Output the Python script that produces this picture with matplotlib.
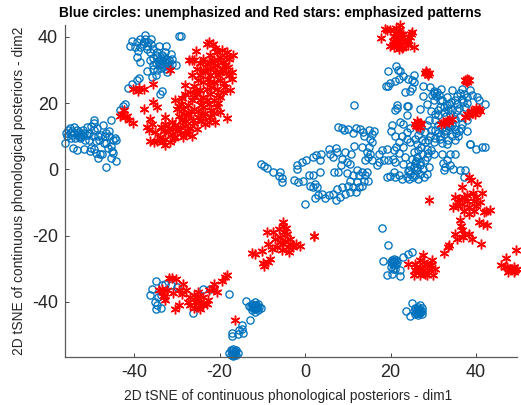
import matplotlib
matplotlib.use("Agg")
import matplotlib.pyplot as plt

plt.rcParams['font.family'] = ['Liberation Sans', 'DejaVu Sans']
plt.rcParams['axes.unicode_minus'] = False

title = "Blue circles: unemphasized and Red stars: emphasized patterns"
xlabel = "2D tSNE of continuous phonological posteriors - dim1"
ylabel = "2D tSNE of continuous phonological posteriors - dim2"
xticks = [-40, -20, 0, 20, 40]
yticks = [-40, -20, 0, 20, 40]

blue_left = [(-56.2,8),(-56,11),(-55.8,10),(-55.5,12),(-55,12.5),(-55,11),(-54.8,9.5),(-54.5,10.5),(-54.2,12.8),(-54,11),
 (-53.8,9.5),(-53.5,12),(-53,10),(-53,11.2),(-52.5,9.8),(-52.5,10.8),(-52,10.5),(-52,12),(-51.5,9),(-51,10.5),(-51,12.8),
 (-50.5,8.8),(-50.5,11),(-50,13),(-50,6.5),(-49.7,10),(-49.5,12),(-49.5,14.8),(-49.5,6),(-49.5,14),(-49,8.5),(-49,5),
 (-48.8,12.5),(-48.5,10),(-48.2,9),(-48.5,3.5),(-48,4.5),(-47.8,10.5),(-47.5,4.5),(-47.2,13.3),(-47,8),(-46.8,10),(-46.5,8),
 (-46.5,11),(-46.2,6.5),(-46,10),(-46,11.5),(-45.5,7),(-45.5,3.5),(-45.3,5.5),(-45,9),(-45,5),(-44.5,9.5),(-44.3,9),
 (-44.3,2.5),(-46.7,0.7),(-53.5,5.8),(-54.3,6.3),(-51.8,6.2),(-45.5,14.8),(-50.3,5.5),(-54.6,11.6),(-53.2,10.6),(-51.8,11),(-52.8,9.4)]
blue_upper = [(-41,37.2),(-40.6,38.7),(-39.4,38.4),(-38.6,39.4),(-37.5,40.7),(-36,39.4),(-37.8,38.4),(-36.7,38.4),(-39.8,36.9),
 (-38.6,36.9),(-37,36.4),(-36.3,35.4),(-34.3,37.4),(-32.5,37.4),(-39.2,35.7),(-34.7,35.4),(-32.8,35.4),(-31.4,34.9),(-39.4,33.9),
 (-38.6,32.4),(-36.3,32.9),(-34.7,33.9),(-33.5,34.4),(-31.2,33.4),(-35.5,31.4),(-33.9,31.9),(-32.8,32.4),(-32,32.4),(-33.2,30.9),
 (-31.2,31.9),(-30.2,31.6),(-34.7,29.9),(-37,29.7),(-32.4,29.4),(-35.9,27.9),(-34.9,28.4),(-33.5,33),(-32.5,33.4),(-32,31.2),
 (-33,31.5),(-34,33),(-35.5,33.5),(-35,32),(-35.5,36.5),(-37.5,39.5),(-38,37.8),(-29.4,40.2),(-29.1,40.2),
 (-41.4,24.6),(-40.6,25.8),(-39.4,27),(-38.8,27.6),(-34,22.8),(-33.6,23.6),(-43.3,18),(-42.7,19),(-42.1,19.6),
 (-33.4,32.2),(-32.4,31.8),(-33.8,30.6),(-34.2,31.4),(-32.6,30.4),(-31.8,33),(-34.4,32.6),(-33,33.9),(-36,38),(-37,37.4),(-35,34.4),(-35.7,30.4)]
blue_center = [(-10.4,1.5),(-9.7,0.9),(-9,0.3),(-7.6,-0.8),(-5.8,-0.8),(-6.2,-2),(-5.3,-2.7),(-5.5,-3.9),
 (-2.6,-3.2),(-1.6,-3.9),(-0.6,-3.6),(-1.9,0.2),(-1.8,1.2),(-0.8,2.2),(0.2,2.7),(1.9,3.7),(2.6,4.2),(3.7,4.7),(3.5,2.9),
 (5.7,6.2),(7.2,6.5),(5.9,4.7),(7.4,5.2),(6.6,3.7),(8.6,3.2),(8.4,1.4),(9.4,5.2),(10.8,4.7),(9.8,2.2),(10.4,1.7),(11.5,6.9),
 (0.8,-1.8),(1.8,-1.6),(3.4,-0.8),(6.8,-0.8),(7.8,-0.8),(9.8,-1.1),(11.2,-1.8),(12.1,-0.3),(13.3,-0.8),(14.6,-0.8),(12.5,-1.8),
 (14,-1.8),(13.7,-3.4),(14.8,-3.4),(12.1,-3.9),(10.5,-3.4),(10.1,-4.9),(11.3,-5.4),(12.5,-5.4),(13.3,-4.9),(8.6,-5.4),(7.4,-5.9),
 (1.2,-4.9),(2.3,-4.4),(2.7,-5.4),(1.9,-5.4),(3.1,-7.9),(2.3,-8.6),(3.9,-7.4),(5.5,-7.9),(6.6,-7.4),(8.2,-8.4),(9.4,-7.4),
 (10.5,-6.9),(11.9,-6.9),(0,-10.5),(4.6,-8.8),(7.2,-9.2),
 (7.8,12.8),(8.6,12.6),(9.1,12),(10.1,12.2),(11.3,10.9),(11.9,12.6),(12.9,12.2),(13.5,11.2),(13.7,10.2),(15,11.9),(16.2,11.7),
 (15.6,10.7),(15.2,9.2),(15.6,8.2),(15,6.7),(13.3,6.7),(14.4,5.2),(15.2,4.7),(14,2.7),(14.8,3.7),(15.6,2.7),(16.8,1.2),(17.2,2.2),
 (17.4,4.7),(18,5.7),(19.1,6.2),(20.7,5.7),(19.5,2.7),(21.1,2.2),(20.5,3.2),(21.3,6.7),(21.9,8.2),(23,6.7),(23.4,3.7),(23,1.7),
 (19.1,-2.2),(20.7,-0.8),(21.1,-2.4),(21.9,-1.8),(22.6,-2.9),(23.8,-2.4),(24.6,-1.3),(25.4,0.7),(26.1,-0.3),(26.9,-1.3),(25.8,-1.8),
 (24.4,-2.9),(26.5,-2.9),(26.9,1.2),(27.5,0),(28.5,-1.3),(28.9,0.7),(28.1,2.7),(26.1,3.7),(25.4,5.2),(26.5,5.7),(28.5,6.2),
 (26.1,7.7),(25.8,9.2),(28.1,8.2),(29.3,10.2),(30.1,8.2),(31.6,9.2),(33.2,7.7),(32.4,10.7),(34.3,10.2),(35.9,10.2),(35.1,12.2),
 (37.9,11.7),(36.7,13.8),(34,12.8),(32.8,11.7),(31.2,13.3),(30.4,14.8),(31.2,16.3),(30.4,16.8),(32.4,17.3),(28.5,13.3),(28.1,11.2),
 (23.8,11.2),(23,13.8),(23.8,16.3),(22.2,14.3),(20.3,13.3),(20.1,11.7),(22.6,10.2),(21.1,10.2),(23.8,9.2),(24.6,8.2),
 (38.5,7.7),(38.7,7.6),(40,6.2),(41.4,6.7),(42.2,6.7),(30.1,4.7),(32,4.7),(34,4.7),(35.1,4.7),(33.2,2.7),(34,1.2),(34.7,0.2),
 (32.5,-0.3),(32.8,0.7),(36.3,-0.1),(37.5,-0.1),(37.1,-2.4),(28.5,3.7),(37.9,14.8),(35.1,15.3),(36.3,15.8),(34,16.8),(35.5,17.8),
 (37.5,18.8),(32.4,18.8),(31.6,18.8),(33.6,19.8),(35.1,21),(36.7,21.3),(37.9,21.8),
 (19.5,29.8),(21.3,31.1),(21.7,29.9),(22.1,29.6),(23,28.2),(24,27.4),(25.4,28.4),(25,26.9),(25.5,26.3),(21.9,27.4),(21.1,26.6),
 (19.9,26),(18.9,25.3),(19.3,25.2),(23.4,23.3),(24.6,23.8),(25,24.6),(27.6,25.3),(29.3,24.8),(30.1,23.8),(30.9,23.3),(31.8,24.3),
 (27.7,22.3),(30.1,23),(34.3,24.1),(36.7,24.3),(38.5,24),(35.5,22.3),(37.1,22.8),(33.2,21.8),(30.1,21),(31.6,20.8),(40.2,21.8),
 (40.6,20.8),(42,19.7),(33.2,19.3),(35.5,19.8),(36.9,20.3),(34.3,17.8),(28.5,19.8),(26.9,18.3),(24.2,19.1),(23.8,19),(21.5,19.3),
 (21.1,17.8),(21.4,18.6),(11.4,19.5),(29,15),(29.5,12),(31,11),(33.5,13.2),(36,11.5),(24.5,12.5),(26.5,10.5),(27.2,6.8),(29.5,5.8),
 (27,2.2),(24.5,1),(22,4.8),(18.5,2.8),(19.8,-2),(24,-0.5),(25.8,1.8),
 (30.5,12),(32,12.5),(33,12),(34.5,13.5),(33.8,14),(31.5,10.2),(30.3,9.6),(28.8,9),(27.3,8.8),(26.8,11.9),(27.4,4.5),(26,2.6),
 (28.8,4.8),(25,3),(24.4,-0.1),(26.3,0.6),(27.8,-2.2),(25.2,-2.3),(32.2,1.8),(35.3,11.1),(36.6,12.5),(33.5,9),(35,9),(32,8),
 (33.4,18),(32,21),(30.6,22.2),(31.4,22.6),(29.8,22.6),(34.2,20.2),(36.2,23),(38,20),(39,22.5),(36,18.5),(33,16),(31,18),(29.4,17.5)]
blue_lower = [(-34.9,-33.8),(-35.9,-36),(-36.3,-37.9),(-35.2,-40),(-35,-42.1),(-33.7,-41.8),(-32.8,-34.5),(-31.4,-35),(-33.5,-35),
 (-34.5,-38.5),(-34.7,-41),(-33.8,-38),(-30,-35.5),(-26.3,-43.4),(-24,-36),(-22.2,-36),(-17.9,-37.6),(-13.8,-39.9),
 (-13,-45.6),(-14.8,-48.1),(-15.5,-48.6),(-14.6,-49.4),(-15.8,-49.8),(-14.8,-47),(-17,-49.4),(-17,-50.2)]
blue_blob_a = [(-11.7,-41.6),(-12.7,-41.6),(-10.7,-41.6),(-11.7,-40.2),(-11.7,-43),(-12.4,-40.6),(-11,-40.6),(-12.4,-42.6),(-11,-42.6),
 (-13.1,-41.2),(-10.3,-42),(-12,-41),(-11.4,-42),(-12,-42),(-11.4,-41),(-12.2,-41.6),(-11.2,-41.6),(-11.7,-41),(-11.7,-42.2)]
blue_blob_b = [(-16.8,-55.5),(-17.8,-55.5),(-15.8,-55.5),(-16.8,-54.2),(-16.8,-56.3),(-17.4,-54.6),(-16.2,-54.6),(-17.4,-56.2),(-16.2,-56.2),
 (-17,-55),(-16.4,-55.8),(-17.2,-55.6),(-16.5,-55),(-16.9,-56),(-16.3,-55.2)]
blue_blob_c = [(18,-17.8),(19.4,-22.9),(18.2,-27.6),(23,-26.5),(24.2,-25.5),(25,-25),(20.8,-28),(20,-28),(21.6,-28),(20.8,-27),(20.8,-29),
 (21,-30),(22.1,-30.3),(19.1,-31.8),(20.3,-31.5),(22.2,-32.3),(20.6,-30.2),(20.2,-29.4),(21.3,-27.3),(20.3,-27.3),(20.4,-28.4),(21.2,-28.6),(20.8,-27.6)]
blue_blob_d = [(25,-40.3),(23.6,-42.9),(24.6,-44.3),(26.9,-40.9),(26.5,-42.9),(25.6,-42.9),(27.4,-42.9),(26.5,-41.7),(26.5,-44.1),
 (25.7,-42),(27.3,-42),(25.7,-43.8),(27.3,-43.8),(26,-43),(27,-43),(26.5,-42.3),(26.5,-43.5),(26.1,-42.4),(26.9,-43.5),(26.1,-43.4),(26.9,-42.4)]

red_main = [(-22.4,38.4),(-23,37.9),(-21.6,37.9),(-25.6,35.7),(-26.5,33.1),(-27.1,33.1),(-26,32.9),(-19.5,35.9),(-20.7,35.4),(-18.3,35.4),
 (-16.8,34.4),(-22.2,34.4),(-23.8,33.4),(-19.9,33.9),(-17.9,33.4),(-21.4,32.9),(-19.1,32.4),(-23,31.9),(-20.7,31.4),(-25.4,30.4),
 (-22.2,30.4),(-19.5,30.4),(-17.2,29.4),(-17.9,28.4),(-17.2,27.4),(-26.5,28.4),(-24.6,28.4),(-22.2,28.4),(-20.3,28.4),(-23.8,26.4),
 (-21.4,26.4),(-28.1,25.6),(-26.1,25.3),(-23,24.3),(-20.7,24.3),(-17.5,24),(-19.1,23.3),(-25.4,22.8),(-22.2,22.8),(-19.9,21.8),
 (-28.9,21.6),(-30.4,20.8),(-26.5,20.8),(-24.6,20.8),(-21.4,20.8),(-30,18.3),(-28.5,18.3),(-26.1,18.3),(-23.8,18.8),(-20.7,18.8),
 (-19.9,17.3),(-18.3,15.6),(-27.3,16.3),(-25,15.8),(-22.2,15.8),(-21,14.3),(-23.4,13.8),(-28.9,14.8),(-30.4,13.3),(-32.8,15.8),
 (-36.3,15.3),(-35.9,13.8),(-37,12.8),(-32.8,13.8),(-30,11.7),(-27.3,11.7),(-25.4,12.2),(-35.1,11.2),(-32,11.2),(-36.3,8.7),
 (-34.7,8.7),(-32.8,9.2),(-32.8,7.2),(-31.6,8.2),(-30.4,9.7),(-28.5,9.7),(-26.5,10.2),(-35.7,20.3),(-34.6,18.8),(-37.7,18.2),
 (-40.3,14.1),(-42.5,17.8),(-42.1,15.8),(-43.3,16),(-41.6,16),(-35.5,25.8),(-40.2,24.3),(-39,23.8),(-37.8,24.3),(-31.6,30.1),
 (-20,29.5),(-24,30),(-24.5,24),(-27,23.5),(-24,22),(-19,26),(-29,19.8),(-27.5,19.5),(-25,17.5),(-22,18),(-24,16),(-29.5,16),
 (-28,13),(-31,12.3),(-29,11),(-26,14),(-18.8,31.5),(-21,36.6),(-18,31),(-30.8,9.5),(-33,11.5),(-36.5,12),(-21.5,31),(-22.5,26.5),
 (-20.5,33),(-18.6,34),(-22.5,32.5),(-24.5,32),(-23.4,29.6),(-21,29.5),(-18.5,29.2),(-25,27),(-22.8,27.4),(-20,27),(-25.6,24),
 (-22,25),(-18.8,24.8),(-28,22.8),(-26,22),(-23,21),(-20.5,22.6),(-29.5,19),(-26.8,17.5),(-24.4,19.5),(-22.6,19.6),(-20.4,20),
 (-21.4,17),(-23.4,17),(-28.4,16.6),(-26.2,15),(-24.3,14.6),(-22.5,14.4),(-27.8,14.6),(-31.2,14.4),(-31.8,12.6),(-33.8,12.8),
 (-29.2,12.7),(-27,12.6),(-34,9.8),(-31.2,10.6),(-27.8,10.6),(-33.2,8.2),(-35.4,8.2),(-42.8,16.8),(-41.2,15),(-38.8,24.5)]
red_top = [(17.8,39.7),(18.7,42.5),(19.9,42),(22.2,43.5),(20.7,40.4),(21.9,42),(23,41),(25,41.5),(24.6,39.9),(21.1,38.4),(22.2,38.9),
 (23.8,38.4),(21.9,36.4),(23,36.9),(25.5,37.1),(19.9,37.4),(22.3,37.8),(21.5,40),(22.5,41),(20.5,38.8),(24,37.5),(22.8,39.9),
 (19.2,42.2),(21.3,42.8),(21,41.3),(24.7,40.8),(20.8,37),(22.6,36.6),(24,39.2),(21.5,37.4)]
red_blobs = [(28.5,29.1),(28.3,29.6),(28.8,28.6),(28.1,29),(28.9,29.2),(37.9,26.9),(37.4,27),(38.4,26.9),(37.9,27.4),(37.9,26.4),(37.6,26.7),(38.2,27.1),
 (26.5,13.6),(25.8,13.8),(27.2,13.6),(26.2,14.5),(26.8,12.8),(27,14),(26,13),(26.5,14.1),(26.5,13.1),(33.2,14.6),(31.8,13.6),(34.4,15.2),(32.6,14),(33.8,15),
 (32.2,14.2),(33.6,14.3),(39.4,17.3),(37.5,15.8),(40.6,18.3),(38.4,16.5),(40,18.6),(39.8,16.6),(38.8,17.6),(41,17.5),(37.9,16.7),(39,16.9),(40.2,17.6)]
red_center = [(-5.1,-15.9),(-5.2,-17),(-8.9,-18.9),(2,-20),(-5.8,-20.4),(-3.5,-21),(-8.6,-22.5),(-5.1,-22.5),(-1.2,-23.3),(-11.7,-25.5),
 (-8.2,-27),(-9.7,-29.2),(-3.7,-25),(-7,-21),(-4,-23.5),(-2.8,-23.5),(-6.5,-23.5),(-7.5,-19),(-10.2,-24.8),(-9.8,-28.4),(-5,-18.8),(-5.5,-24.5),
 (-4.3,-19.5),(-6.2,-18),(-7.8,-24),(-4.8,-21.5),(-2.2,-22.5),(-12.5,-25.2),(-8.8,-28),(-5.8,-22),(-3.6,-22.6),(2,-20),(-4.4,-17.6)]
red_lower = [(-31.2,-32.7),(-34.3,-36.6),(-32.4,-36.6),(-32.8,-39.6),(-28.5,-34.5),(-28.9,-37.6),(-30.4,-42.1),(-26.9,-38.6),(-25,-37),
 (-25,-41.6),(-23,-40.6),(-21.4,-34.5),(-20.7,-37),(-18.7,-32.5),(-16.4,-45.6),(-31,-37.5),(-29.5,-41),(-27.5,-40),(-25.8,-40),
 (-24,-38.5),(-26,-42),(-33,-38.5),(-19.4,-33.7),(-29.6,-36.5),(-24.5,-42.3),(-22.4,-36.5),(-24.5,-40),(-26,-38),(-24,-41),
 (-27.8,-36.5),(-33.5,-36),(-33,-38),(-30.3,-33),(-31.8,-32.7),(-27,-41),(-22.8,-39.5),(-18.2,-32),(-21.4,-36),(-25.3,-39)]
red_right = [(29.1,-9.4),(40.2,-4.3),(38.3,-2.3),(36.7,-5.3),(35.1,-8.4),(39.4,-7.3),(41.4,-7.3),(36.7,-10.4),(34.7,-11.4),(38.3,-11.4),
 (41,-9.9),(43.3,-12.2),(41.8,-12.9),(38.3,-13.4),(36.3,-15.4),(40.6,-15.9),(42.6,-16.9),(36.7,-18.4),(35.1,-19.4),(38.3,-19.4),
 (39,-21.1),(35.5,-20.9),(33.6,-23),(32.4,-25.3),(41.1,-22.7),(49.3,-24.5),(47.1,-26.7),(45.9,-29),(48,-30),(49.6,-30),(48.8,-31),(46.8,-29.5),
 (37.2,-8.5),(38,-9.6),(40,-11),(35.8,-10),(27.7,-26),(24.2,-28.7),(29.7,-27.5),(25.8,-28.5),(26.9,-29.5),(28.5,-29),(30.4,-30),
 (25.4,-32),(26.9,-32),(28.5,-32),(30,-32),(27.7,-30.5),(27,-27.5),(29,-30.5),(25.8,-30.5),(49,-29.5),
 (38,-7.8),(39.5,-9.5),(37.2,-12.5),(39.6,-12.5),(35.9,-11.2),(36,-9),(37.3,-19.6),(36.6,-17.2),(37,-20.4),(41.6,-16.4),(33.4,-23.5),
 (47.6,-31),(48.4,-30),(49.2,-30.5),(47.2,-29.5),(27.8,-28),(28,-31.5),(26.6,-30.8),(29.4,-29),(26,-29.5),(38.9,-3.2),(40,-8.4),(42.4,-12.5)]

groups_blue = [blue_left, blue_upper, blue_center, blue_lower, blue_blob_a, blue_blob_b, blue_blob_c, blue_blob_d]
groups_red = [red_main, red_top, red_blobs, red_center, red_lower, red_right]

W, H = 521, 405
fig = plt.figure(figsize=(W/100, H/100), dpi=100)
ax = fig.add_axes([65/W, 1-356.7/H, (517-65)/W, (356.7-25)/H])

for g in groups_blue:
    ax.plot([p[0] for p in g], [p[1] for p in g], ls='none', marker='o', ms=5.2, mfc='none',
            mec='#0072BD', mew=0.95, clip_on=False, zorder=2)
for g in groups_red:
    ax.plot([p[0] for p in g], [p[1] for p in g], ls='none', marker=(6, 2, 0), ms=7.0,
            mec='#FF0000', mew=1.05, clip_on=False, zorder=3)

ax.set_xlim(-56.2, 49.6)
ax.set_ylim(-56.6, 43.6)
ax.set_xticks(xticks)
ax.set_yticks(yticks)
ax.spines['top'].set_visible(False)
ax.spines['right'].set_visible(False)
for s in ('left', 'bottom'):
    ax.spines[s].set_color('#5a5a5a')
    ax.spines[s].set_linewidth(0.9)
ax.tick_params(direction='in', length=3.2, width=0.7, color='#444444', labelcolor='#262626', labelsize=13, pad=5)
ax.set_xlabel(xlabel, fontsize=9.95, color='#262626', labelpad=6, x=0.493)
ax.set_ylabel(ylabel, fontsize=9.95, color='#262626', labelpad=4)
fig.text(270.5/W, 1-13/H, title, fontsize=9.95, fontweight='bold', color='black', ha='center', va='center')
fig.savefig('out.png', dpi=100)
